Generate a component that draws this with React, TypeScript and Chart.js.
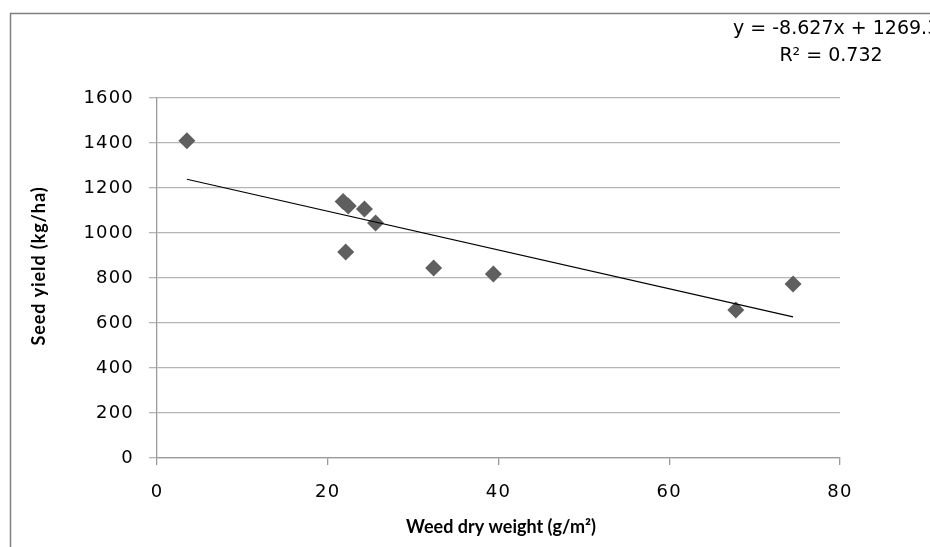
import React, { useEffect, useRef } from 'react';
import { Chart, registerables } from 'chart.js';

Chart.register(...registerables);

// Data
const weedDryWeight = [3.5, 21.8, 22.4, 24.3, 25.6, 22.1, 32.4, 39.4, 67.8, 74.5];
const seedYield = [1410, 1140, 1120, 1107, 1044, 916, 844, 818, 658, 773];

// Linear trendline endpoints (y = -8.627x + 1269.3)
const trendX = [3.5, 74.5];
const trendY = [1239, 627];

const xTickValues = [0, 20, 40, 60, 80];
const yTickValues = [0, 200, 400, 600, 800, 1000, 1200, 1400, 1600];

const equationText = 'y = -8.627x + 1269.3';
const r2Text = 'R² = 0.732';
const xTitle = 'Weed dry weight (g/m²)';
const yTitle = 'Seed yield (kg/ha)';

const decorPlugin = {
  id: 'decor',
  beforeDraw(chart: any) {
    const ctx = chart.ctx;
    ctx.save();
    ctx.fillStyle = '#ffffff';
    ctx.fillRect(0, 0, chart.width, chart.height);
    ctx.restore();
    // slightly wider glyph spacing for the tick labels, as in the reference
    (ctx as any).letterSpacing = '1.2px';
  },
  afterDraw(chart: any) {
    const ctx = chart.ctx;
    (ctx as any).letterSpacing = '0px';
    ctx.save();
    // outer frame
    ctx.strokeStyle = '#808080';
    ctx.lineWidth = 1.5;
    ctx.beginPath();
    ctx.moveTo(10.5, chart.height);
    ctx.lineTo(10.5, 13.5);
    ctx.lineTo(chart.width, 13.5);
    ctx.stroke();

    // trendline label
    ctx.fillStyle = '#000000';
    ctx.font = '19px "DejaVu Sans"';
    ctx.textBaseline = 'middle';
    ctx.textAlign = 'left';
    ctx.fillText(equationText, 733, 29);
    ctx.textAlign = 'center';
    ctx.fillText(r2Text, 831, 56);

    // axis titles
    ctx.font = 'bold 18px Lato';
    ctx.textAlign = 'center';
    ctx.fillText(xTitle, 501, 527);
    (ctx as any).letterSpacing = '0.9px';
    ctx.translate(39, 266);
    ctx.rotate(-Math.PI / 2);
    ctx.fillText(yTitle, 0, 0);
    ctx.restore();
    (ctx as any).letterSpacing = '0px';
  },
};

export default function App() {
  const canvasRef = useRef<HTMLCanvasElement | null>(null);

  useEffect(() => {
    const canvas = canvasRef.current;
    if (!canvas) return;
    const chart = new Chart(canvas, {
      type: 'scatter',
      data: {
        datasets: [
          {
            type: 'line',
            label: 'Trend',
            data: trendX.map((x, i) => ({ x, y: trendY[i] })),
            borderColor: '#000000',
            borderWidth: 1.2,
            pointRadius: 0,
            showLine: true,
            fill: false,
            order: 0,
          } as any,
          {
            label: 'Seed yield',
            data: weedDryWeight.map((x, i) => ({ x, y: seedYield[i] })),
            backgroundColor: '#5f5f5f',
            borderWidth: 0,
            pointStyle: 'rectRot',
            pointRadius: 8.5,
            order: 1,
          },
        ],
      },
      options: {
        responsive: false,
        animation: false,
        layout: { padding: { top: 98, right: 90, left: 0, bottom: 0 } },
        plugins: {
          legend: { display: false },
          tooltip: { enabled: false },
        },
        scales: {
          x: {
            type: 'linear',
            min: 0,
            max: 80,
            afterBuildTicks: (s: any) => {
              s.ticks = xTickValues.map((v) => ({ value: v }));
            },
            afterFit: (s: any) => {
              s.height = 89;
            },
            ticks: {
              color: '#000000',
              font: { family: 'DejaVu Sans', size: 18 },
              padding: 17,
              maxRotation: 0,
              callback: (v: any) => String(v),
            },
            grid: {
              drawOnChartArea: false,
              drawTicks: true,
              tickLength: 7,
              color: '#9a9a9a',
              lineWidth: 1.3,
            },
            border: { display: true, color: '#9a9a9a', width: 1.3 },
          },
          y: {
            type: 'linear',
            min: 0,
            max: 1600,
            afterBuildTicks: (s: any) => {
              s.ticks = yTickValues.map((v) => ({ value: v }));
            },
            afterFit: (s: any) => {
              s.width = 157;
            },
            ticks: {
              color: '#000000',
              font: { family: 'DejaVu Sans', size: 18 },
              padding: 15,
              callback: (v: any) => String(v),
            },
            grid: {
              drawTicks: true,
              tickLength: 8,
              color: '#b4b4b4',
              lineWidth: 1.3,
            },
            border: { display: true, color: '#9a9a9a', width: 1.3 },
          },
        },
      },
      plugins: [decorPlugin],
    });
    return () => chart.destroy();
  }, []);

  return (
    <div style={{ position: 'absolute', left: 0, top: 0, width: 930, height: 547, background: '#fff' }}>
      <canvas ref={canvasRef} width={930} height={547} style={{ display: 'block' }} />
    </div>
  );
}
